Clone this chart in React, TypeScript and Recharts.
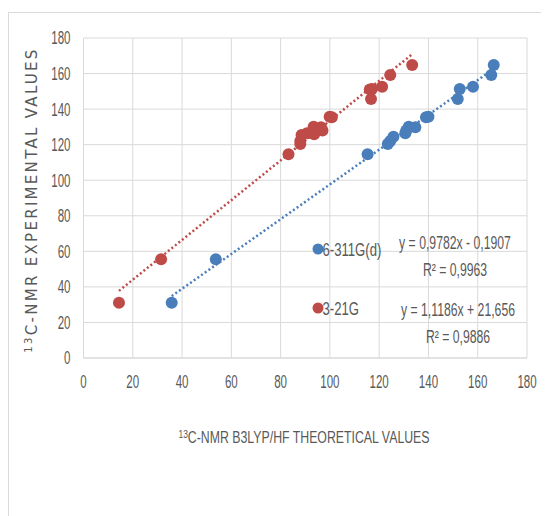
import React from "react";
import {
  ScatterChart,
  Scatter,
  XAxis,
  YAxis,
  CartesianGrid,
  ReferenceLine,
} from "recharts";

// theoretical shifts (x) vs experimental shifts (y)
const basisA = "6-311G(d)";
const basisAX = [35.8, 53.7, 115.3, 123.5, 124.5, 125.8, 130.6, 131, 132, 134.7, 139, 140, 151.9, 152.7, 158.1, 165.5, 166.5];
const basisAY = [31.1, 55.5, 114.6, 120.4, 122, 124.5, 126.4, 128, 130.1, 129.8, 135.4, 135.7, 145.7, 151.3, 152.6, 159.2, 164.8];

const basisB = "3-21G";
const basisBX = [14.4, 31.5, 83.2, 88, 88, 88.5, 90.7, 93.4, 93.6, 96.4, 97, 99.9, 100.8, 116.2, 117.1, 116.7, 121.2, 124.5, 133.4];
const basisBY = [31.1, 55.5, 114.6, 120.4, 122, 125.4, 126.4, 130.1, 125.8, 129.8, 128, 135.7, 135.4, 151.1, 151.3, 145.7, 152.6, 159.2, 164.8];

// trendline coefficients as printed on the chart
const fitA = { slope: 0.9782, intercept: -0.1907 };
const fitB = { slope: 1.1186, intercept: 21.656 };
const eqA = ["y = 0,9782x - 0,1907", "R² = 0,9963"];
const eqB = ["y = 1,1186x + 21,656", "R² = 0,9886"];

const ticks = [0, 20, 40, 60, 80, 100, 120, 140, 160, 180];

const BLUE = "#4a7ebb";
const RED = "#be4b48";
const GRID = "#d9d9d9";
const TEXT = "#595959";
const SANS = "'Liberation Sans', Arial, sans-serif";

const toPoints = (xs: number[], ys: number[]) => xs.map((x, i) => ({ x, y: ys[i] }));
const seriesA = toPoints(basisAX, basisAY);
const seriesB = toPoints(basisBX, basisBY);

const fitSegment = (xs: number[], fit: { slope: number; intercept: number }) => {
  const lo = Math.min(...xs);
  const hi = Math.max(...xs);
  return [
    { x: lo, y: fit.slope * lo + fit.intercept },
    { x: hi, y: fit.slope * hi + fit.intercept },
  ];
};

// no narrow font installed, so squeeze Liberation Sans horizontally (Calibri-ish look)
const NText = ({ x, y, anchor = "start", size = 18, sx = 0.68, dy, children }: any) => (
  <text
    transform={`translate(${x}, ${y}) scale(${sx}, 1)`}
    textAnchor={anchor}
    fontSize={size}
    fontFamily={SANS}
    fill={TEXT}
    dy={dy}
  >
    {children}
  </text>
);

const XTick = (p: any) => (
  <NText x={p.x} y={p.y} anchor="middle" dy="0.71em" sx={0.64}>
    {p.payload.value}
  </NText>
);

const YTick = (p: any) => (
  <NText x={p.x} y={p.y} anchor="end" dy="0.36em" sx={0.64}>
    {p.payload.value}
  </NText>
);

const Dot = (color: string) => (props: any) => (
  <circle cx={props.cx} cy={props.cy} r={6} fill={color} />
);

export default function App() {
  return (
    <div style={{ position: "relative", width: 541, height: 508, overflow: "hidden" }}>
      <div
        style={{
          position: "absolute",
          left: 0,
          top: 4,
          width: 560,
          height: 520,
          borderTop: `1.5px solid ${GRID}`,
          borderLeft: `1.5px solid ${GRID}`,
        }}
      />
      <ScatterChart
        width={541}
        height={508}
        margin={{ top: 30, right: 22, bottom: 128, left: 0 }}
        style={{ position: "absolute", left: 0, top: 0 }}
      >
        <CartesianGrid stroke={GRID} strokeWidth={1} />
        <XAxis
          type="number"
          dataKey="x"
          domain={[0, 180]}
          ticks={ticks}
          interval={0}
          height={30}
          tickSize={0}
          tickMargin={17}
          axisLine={{ stroke: GRID }}
          tickLine={false}
          tick={XTick}
        />
        <YAxis
          type="number"
          dataKey="y"
          domain={[0, 180]}
          ticks={ticks}
          interval={0}
          width={75.5}
          tickSize={0}
          tickMargin={13}
          axisLine={{ stroke: GRID }}
          tickLine={false}
          tick={YTick}
        />
        <ReferenceLine
          segment={fitSegment(basisAX, fitA)}
          stroke={BLUE}
          strokeWidth={2.5}
          strokeDasharray="2 2.5"
          ifOverflow="visible"
        />
        <ReferenceLine
          segment={fitSegment(basisBX, fitB)}
          stroke={RED}
          strokeWidth={2.5}
          strokeDasharray="2 2.5"
          ifOverflow="visible"
        />
        <Scatter name={basisA} data={seriesA} shape={Dot(BLUE)} isAnimationActive={false} />
        <Scatter name={basisB} data={seriesB} shape={Dot(RED)} isAnimationActive={false} />
      </ScatterChart>
      <svg
        width={541}
        height={508}
        style={{ position: "absolute", left: 0, top: 0, pointerEvents: "none" }}
      >
        {/* legend */}
        <circle cx={310} cy={241} r={5.5} fill={BLUE} />
        <NText x={314.5} y={248} sx={0.73}>{basisA}</NText>
        <circle cx={310} cy={300} r={5.5} fill={RED} />
        <NText x={314.5} y={307} sx={0.73}>{basisB}</NText>

        {/* trendline equations */}
        <NText x={447} y={241} anchor="middle">{eqA[0]}</NText>
        <NText x={447} y={268} anchor="middle">{eqA[1]}</NText>
        <NText x={450} y={308} anchor="middle">{eqB[0]}</NText>
        <NText x={450} y={335} anchor="middle">{eqB[1]}</NText>

        {/* axis titles */}
        <NText x={296} y={435} anchor="middle" size={16} sx={0.77}>
          <tspan fontSize={11} dy={-5}>13</tspan>
          <tspan dy={5}>C-NMR B3LYP/HF THEORETICAL VALUES</tspan>
        </NText>
        <text
          transform="translate(29, 192) rotate(-90)"
          textAnchor="middle"
          fontSize={15}
          fontFamily="'DejaVu Sans', sans-serif"
          letterSpacing={2.3}
          fill={TEXT}
        >
          <tspan fontSize={10} dy={-5}>13</tspan>
          <tspan dy={5}>C-NMR EXPERIMENTAL VALUES</tspan>
        </text>
      </svg>
    </div>
  );
}
